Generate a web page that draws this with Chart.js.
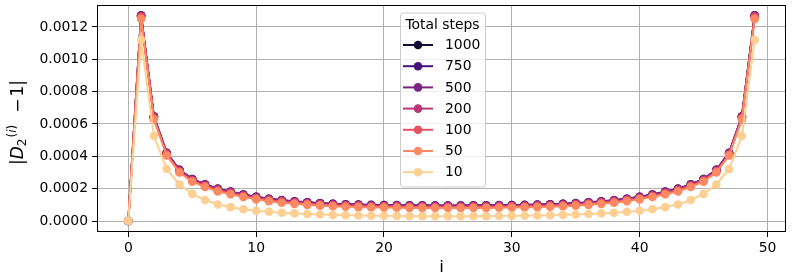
<!DOCTYPE html>
<html><head><meta charset="utf-8">
<script src="https://cdn.jsdelivr.net/npm/chart.js@4/dist/chart.umd.min.js"></script>
<style>html,body{margin:0;padding:0;background:#fff;} canvas{display:block;}</style>
</head><body>
<canvas id="c" width="793" height="280"></canvas>
<script>
const iValues = [0,1,2,3,4,5,6,7,8,9,10,11,12,13,14,15,16,17,18,19,20,21,22,23,24,25,26,27,28,29,30,31,32,33,34,35,36,37,38,39,40,41,42,43,44,45,46,47,48,49];
const seriesNames = ["1000","750","500","200","100","50","10"];
const seriesColors = ["#140e36","#451077","#7b2382","#b73779","#e75263","#fc8961","#fecf92"];
const steps1000 = [0,0.00127,0.000645,0.00042,0.000315,0.000258,0.000225,0.000198,0.00018,0.000162,0.000148,0.000136,0.000127,0.00012,0.000114,0.000109,0.000105,0.000102,0.0001,0.000098,0.000097,0.000096,0.000095,0.000095,0.000094,0.000094,0.000094,0.000095,0.000095,0.000096,0.000097,0.000098,0.0001,0.000102,0.000105,0.000109,0.000114,0.00012,0.000127,0.000136,0.000148,0.000162,0.00018,0.000198,0.000225,0.000258,0.000315,0.00042,0.000645,0.00127];
const steps750 = [0,0.001271,0.000646,0.000421,0.000316,0.000259,0.000226,0.000199,0.000181,0.000163,0.000149,0.000137,0.000128,0.000121,0.000115,0.00011,0.000106,0.000103,0.000101,0.000099,0.000098,0.000097,0.000096,0.000096,0.000095,0.000095,0.000095,0.000096,0.000096,0.000097,0.000098,0.000099,0.000101,0.000103,0.000106,0.00011,0.000115,0.000121,0.000128,0.000137,0.000149,0.000163,0.000181,0.000199,0.000226,0.000259,0.000316,0.000421,0.000646,0.001271];
const steps500 = [0,0.001272,0.000647,0.000422,0.000317,0.00026,0.000227,0.0002,0.000182,0.000164,0.00015,0.000138,0.000129,0.000122,0.000116,0.000111,0.000107,0.000104,0.000102,0.0001,0.000099,0.000098,0.000097,0.000097,0.000096,0.000096,0.000096,0.000097,0.000097,0.000098,0.000099,0.0001,0.000102,0.000104,0.000107,0.000111,0.000116,0.000122,0.000129,0.000138,0.00015,0.000164,0.000182,0.0002,0.000227,0.00026,0.000317,0.000422,0.000647,0.001272];
const steps200 = [0,0.001266,0.00064,0.000416,0.000311,0.000254,0.000221,0.000194,0.000176,0.000158,0.000144,0.000132,0.000123,0.000116,0.00011,0.000105,0.000101,0.000098,0.000096,0.000094,0.000093,0.000092,0.000091,0.000091,0.00009,0.00009,0.00009,0.000091,0.000091,0.000092,0.000093,0.000094,0.000096,0.000098,0.000101,0.000105,0.00011,0.000116,0.000123,0.000132,0.000144,0.000158,0.000176,0.000194,0.000221,0.000254,0.000311,0.000416,0.00064,0.001266];
const steps100 = [0,0.00126,0.000635,0.000411,0.000306,0.000249,0.000216,0.000189,0.000171,0.000154,0.00014,0.000128,0.000119,0.000112,0.000106,0.000101,0.000097,0.000094,0.000092,0.00009,0.000089,0.000088,0.000087,0.000087,0.000086,0.000086,0.000086,0.000087,0.000087,0.000088,0.000089,0.00009,0.000092,0.000094,0.000097,0.000101,0.000106,0.000112,0.000119,0.000128,0.00014,0.000154,0.000171,0.000189,0.000216,0.000249,0.000306,0.000411,0.000635,0.00126];
const steps50 = [0,0.00125,0.000628,0.000405,0.0003,0.000243,0.00021,0.000183,0.000165,0.000148,0.000134,0.000122,0.000113,0.000106,0.0001,0.000095,0.000091,0.000088,0.000086,0.000084,0.000083,0.000082,0.000081,0.000081,0.00008,0.00008,0.00008,0.000081,0.000081,0.000082,0.000083,0.000084,0.000086,0.000088,0.000091,0.000095,0.0001,0.000106,0.000113,0.000122,0.000134,0.000148,0.000165,0.000183,0.00021,0.000243,0.0003,0.000405,0.000628,0.00125];
const steps10 = [0,0.00112,0.000526,0.000322,0.000226,0.000168,0.00013,0.000102,0.000086,0.000073,0.000063,0.000057,0.000051,0.000047,0.000043,0.00004,0.000038,0.000036,0.000034,0.000033,0.000032,0.000031,0.00003,0.00003,0.00003,0.00003,0.00003,0.00003,0.00003,0.000031,0.000032,0.000033,0.000034,0.000036,0.000038,0.00004,0.000043,0.000047,0.000051,0.000057,0.000063,0.000073,0.000086,0.000102,0.00013,0.000168,0.000226,0.000322,0.000526,0.00112];
const xTicks = [0,10,20,30,40,50];
const yTicks = [0,0.0002,0.0004,0.0006,0.0008,0.0010,0.0012];
const legendTitle = "Total steps";
const xTitle = "i";
// y label pieces: |  D  _2  ^(i)  −  1|
const yLabelParts = ["|", "D", "2", "(", "i", ")", "\u2212", "1", "|"];

const allSeries = [steps1000, steps750, steps500, steps200, steps100, steps50, steps10];
const FONT = "'DejaVu Sans', sans-serif";

const datasets = allSeries.map((vals, k) => ({
  label: seriesNames[k],
  data: iValues.map((x, j) => ({x: x, y: vals[j]})),
  borderColor: seriesColors[k],
  backgroundColor: seriesColors[k],
  pointBackgroundColor: seriesColors[k],
  pointBorderColor: seriesColors[k],
  borderWidth: 2,
  pointRadius: 4.3,
  pointBorderWidth: 0,
  tension: 0,
  order: allSeries.length - k
}));

function drawYLabel(ctx, a) {
  ctx.save();
  const cy = (a.top + a.bottom) / 2 + 4;
  ctx.translate(23, cy);
  ctx.rotate(-Math.PI / 2);
  ctx.fillStyle = '#000';
  ctx.textBaseline = 'alphabetic';
  ctx.textAlign = 'left';
  const big = "17px " + FONT, bigIt = "italic 17px " + FONT;
  const small = "12px " + FONT, smallIt = "italic 12px " + FONT;
  const pieces = [
    [yLabelParts[0], big, 0, 0],
    [yLabelParts[1], bigIt, 0, 0],
    [yLabelParts[2], small, 3, 1],
    [yLabelParts[3], small, -7, 0],
    [yLabelParts[4], smallIt, -7, 0],
    [yLabelParts[5], small, -7, 12],
    [yLabelParts[6], big, 0, 2],
    [yLabelParts[7], big, 0, 0],
    [yLabelParts[8], big, 0, 0]
  ];
  let total = 0;
  pieces.forEach(p => { ctx.font = p[1]; total += ctx.measureText(p[0]).width + p[3]; });
  let x = -total / 2;
  pieces.forEach(p => {
    ctx.font = p[1];
    ctx.fillText(p[0], x, p[2]);
    x += ctx.measureText(p[0]).width + p[3];
  });
  ctx.restore();
}

const frameAndLegend = {
  id: 'frameAndLegend',
  afterDraw(chart) {
    const ctx = chart.ctx;
    const a = chart.chartArea;
    ctx.save();
    ctx.strokeStyle = '#000';
    ctx.lineWidth = 1;
    ctx.strokeRect(Math.round(a.left) + 0.5, Math.round(a.top) + 0.5, Math.round(a.right - a.left) - 1, Math.round(a.bottom - a.top) - 1);
    // legend
    const cx = (a.left + a.right) / 2 + 1;
    const w = 85, bx = cx - w / 2, by = a.top + 7.5, h = 174;
    ctx.beginPath();
    if (ctx.roundRect) ctx.roundRect(bx + 0.5, by + 0.5, w, h, 3); else ctx.rect(bx + 0.5, by + 0.5, w, h);
    ctx.fillStyle = 'rgba(255,255,255,0.8)';
    ctx.fill();
    ctx.strokeStyle = '#cccccc';
    ctx.lineWidth = 1;
    ctx.stroke();
    ctx.fillStyle = '#000';
    ctx.font = "13.9px " + FONT;
    ctx.textBaseline = 'middle';
    ctx.textAlign = 'center';
    ctx.fillText(legendTitle, bx + w / 2, by + 12.5);
    ctx.textAlign = 'left';
    seriesNames.forEach((name, k) => {
      const y = by + 32.5 + k * 21.2;
      ctx.strokeStyle = seriesColors[k];
      ctx.lineWidth = 2;
      ctx.beginPath();
      ctx.moveTo(bx + 3, y);
      ctx.lineTo(bx + 33, y);
      ctx.stroke();
      ctx.fillStyle = seriesColors[k];
      ctx.beginPath();
      ctx.arc(bx + 18, y, 4.3, 0, Math.PI * 2);
      ctx.fill();
      ctx.fillStyle = '#000';
      ctx.fillText(name, bx + 45, y + 0.5);
    });
    ctx.restore();
    drawYLabel(ctx, a);
  }
};

new Chart(document.getElementById('c'), {
  type: 'line',
  data: { datasets },
  options: {
    responsive: false,
    animation: false,
    layout: { padding: { top: 5, right: 7, left: 0, bottom: 0 } },
    plugins: { legend: { display: false }, tooltip: { enabled: false } },
    scales: {
      x: {
        type: 'linear',
        min: -2.45, max: 51.45,
        afterBuildTicks: (s) => { s.ticks = xTicks.map(v => ({value: v})); },
        afterFit: (s) => { s.height = 48; s.paddingLeft = 0; s.paddingRight = 0; },
        grid: { color: '#b0b0b0', lineWidth: 1, drawTicks: true, tickLength: 5, tickColor: '#000' },
        border: { display: false },
        ticks: { color: '#000', font: { family: FONT, size: 13.9 }, padding: 3, maxRotation: 0, callback: (v) => String(v) },
        title: { display: true, text: xTitle, color: '#000', font: { family: FONT, size: 16.7 }, padding: { top: 0, bottom: 2 } }
      },
      y: {
        type: 'linear',
        min: -0.000068, max: 0.001336,
        afterBuildTicks: (s) => { s.ticks = yTicks.map(v => ({value: v})); },
        afterFit: (s) => { s.width = 97; s.paddingTop = 0; s.paddingBottom = 0; },
        grid: { color: '#b0b0b0', lineWidth: 1, drawTicks: true, tickLength: 5, tickColor: '#000' },
        border: { display: false },
        ticks: { color: '#000', font: { family: FONT, size: 13.9 }, padding: 4, callback: (v) => Number(v).toFixed(4) },
        title: { display: false }
      }
    }
  },
  plugins: [frameAndLegend]
});
</script>
</body></html>
